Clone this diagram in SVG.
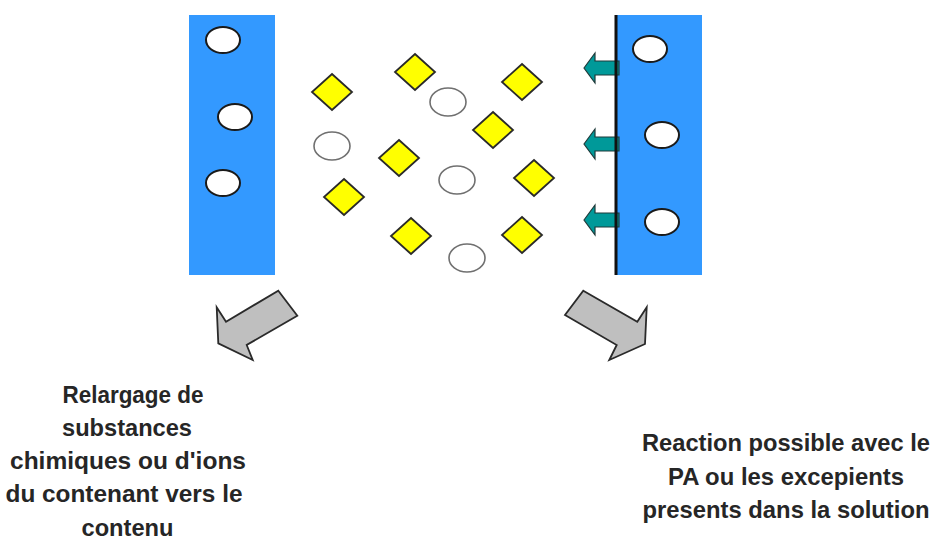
<svg xmlns="http://www.w3.org/2000/svg" width="942" height="552" viewBox="0 0 942 552">
  <style>
    .wall { fill: #3399ff; }
    .pore { fill: #ffffff; stroke: #1a1a1a; stroke-width: 2; }
    .mol { fill: #ffffff; stroke: #707070; stroke-width: 1.6; }
    .ion { fill: #ffff00; stroke: #2a2a2a; stroke-width: 1.8; stroke-linejoin: miter; }
    .push { fill: #009999; stroke: #1f3a3a; stroke-width: 1.2; stroke-linejoin: miter; }
    .flow { fill: #bfbfbf; stroke: #2a2a2a; stroke-width: 1.8; stroke-linejoin: miter; }
    .label { font-family: "Liberation Sans", Arial, sans-serif; font-weight: bold; font-size: 24px; fill: #262626; text-anchor: middle; }
  </style>
  <defs>
    <polygon id="diamond" points="0,-18 20,0 0,18 -20,0"/>
    <polygon id="push-arrow" points="0,0 11,-15 11,-7 35,-7 35,7 11,7 11,15"/>
  </defs>

  <rect width="942" height="552" fill="#ffffff"/>

  <!-- left wall (container) -->
  <g id="wall-left">
    <rect class="wall" x="189" y="15" width="86" height="260"/>
    <ellipse class="pore" cx="223" cy="40" rx="17" ry="13"/>
    <ellipse class="pore" cx="235" cy="117" rx="17" ry="13"/>
    <ellipse class="pore" cx="223" cy="183" rx="17" ry="13"/>
  </g>

  <!-- right wall with surface line -->
  <g id="wall-right">
    <rect class="wall" x="616" y="15" width="86" height="260"/>
    <ellipse class="pore" cx="650" cy="49" rx="17" ry="13"/>
    <ellipse class="pore" cx="662" cy="135" rx="17" ry="13"/>
    <ellipse class="pore" cx="662" cy="222" rx="17" ry="13"/>
  </g>

  <!-- solution: ions and molecules -->
  <g id="solution">
    <use href="#diamond" class="ion" x="332" y="92"/>
    <use href="#diamond" class="ion" x="415" y="72"/>
    <use href="#diamond" class="ion" x="522" y="82"/>
    <use href="#diamond" class="ion" x="493" y="130"/>
    <use href="#diamond" class="ion" x="399" y="158"/>
    <use href="#diamond" class="ion" x="344" y="197"/>
    <use href="#diamond" class="ion" x="534" y="178"/>
    <use href="#diamond" class="ion" x="411" y="236"/>
    <use href="#diamond" class="ion" x="522" y="235"/>
    <ellipse class="mol" cx="448" cy="102" rx="18" ry="14"/>
    <ellipse class="mol" cx="332" cy="146" rx="18" ry="14"/>
    <ellipse class="mol" cx="457" cy="180" rx="18" ry="14"/>
    <ellipse class="mol" cx="467" cy="258" rx="18" ry="14"/>
  </g>

  <!-- connectors -->
  <g id="connectors">
    <use href="#push-arrow" class="push" x="584" y="68"/>
    <use href="#push-arrow" class="push" x="584" y="144"/>
    <use href="#push-arrow" class="push" x="584" y="220"/>
    <line x1="616" y1="15" x2="616" y2="275" stroke="#111111" stroke-width="3"/>
    <polygon class="flow" points="278.3,290.7 297.3,315.7 246.7,345 252.7,360 218.3,343.3 216.7,307.3 226,321.7"/>
    <polygon class="flow" points="583.3,290.7 637.3,321.7 646.7,307.3 645,344 609.3,360 616.7,345 565,315"/>
  </g>

  <!-- captions -->
  <g id="caption-left">
    <text class="label" x="133" y="403" textLength="141" lengthAdjust="spacingAndGlyphs">Relargage de</text>
    <text class="label" x="127" y="436" textLength="130" lengthAdjust="spacingAndGlyphs">substances</text>
    <text class="label" x="128" y="469" textLength="236" lengthAdjust="spacingAndGlyphs">chimiques ou d'ions</text>
    <text class="label" x="124" y="502" textLength="237" lengthAdjust="spacingAndGlyphs">du contenant vers le</text>
    <text class="label" x="127.5" y="536" textLength="92" lengthAdjust="spacingAndGlyphs">contenu</text>
  </g>
  <g id="caption-right">
    <text class="label" x="786" y="451" textLength="288" lengthAdjust="spacingAndGlyphs">Reaction possible avec le</text>
    <text class="label" x="786" y="485" textLength="236" lengthAdjust="spacingAndGlyphs">PA ou les excepients</text>
    <text class="label" x="786" y="518" textLength="287" lengthAdjust="spacingAndGlyphs">presents dans la solution</text>
  </g>
</svg>
